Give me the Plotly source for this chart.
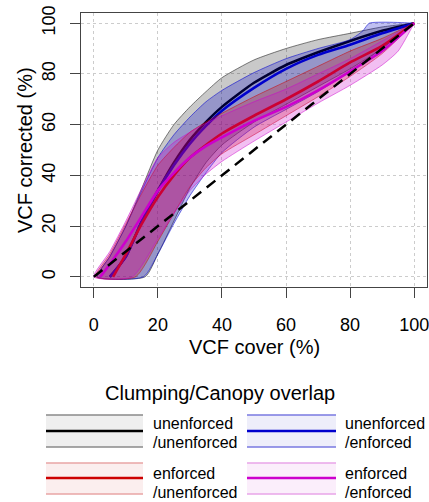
import plotly.graph_objects as go

# ---------------- data ----------------
# unenforced / unenforced  (black / grey)
uu_med_x = [5, 10, 15, 20, 25, 30, 35, 40, 50, 60, 70, 80, 90, 100]
uu_med_y = [0, 8, 22, 34, 45, 54, 61, 67, 76.5, 83.5, 88.5, 93, 97, 100]
uu_hi_x = [1, 5, 10, 15, 20, 25, 30, 35, 40, 50, 60, 70, 80, 90, 100]
uu_hi_y = [0, 8, 20, 35, 50, 60, 67, 73, 78.5, 85.5, 90, 93.5, 96, 98.5, 100]
uu_lo_x = [16, 20, 25, 30, 35, 40, 50, 60, 70, 80, 90, 100]
uu_lo_y = [0, 9, 22, 35, 45, 52, 61, 68, 75, 82, 90, 100]

# unenforced / enforced  (blue)
ue_med_x = [5, 10, 15, 20, 25, 30, 35, 40, 50, 60, 70, 80, 90, 100]
ue_med_y = [0, 8, 22, 34, 44, 52.5, 59.5, 65.5, 74.5, 82, 87.5, 91.5, 96, 100]
ue_hi_x = [1, 5, 10, 15, 20, 25, 30, 35, 40, 50, 60, 70, 80, 84, 86, 100]
ue_hi_y = [0, 8, 20, 34, 47, 56, 63, 69, 73.5, 80.5, 86, 90, 93.5, 97, 100, 100]
ue_lo_x = [15.5, 20, 25, 30, 35, 40, 50, 60, 70, 80, 90, 100]
ue_lo_y = [0, 9, 21, 32, 41, 49, 59, 66, 73, 81, 90, 100]

# enforced / unenforced  (red)
eu_med_x = [6, 10, 15, 20, 25, 30, 35, 40, 50, 60, 70, 80, 90, 100]
eu_med_y = [0, 9, 21, 31.5, 40, 47, 52, 56.5, 63.5, 70, 77, 84.5, 91, 100]
eu_hi_x = [0.5, 5, 10, 15, 20, 25, 30, 35, 40, 50, 60, 70, 80, 90, 100]
eu_hi_y = [0, 9, 21, 33, 44, 51, 57, 61, 64.5, 71, 77, 83, 89, 94, 100]
eu_lo_x = [13, 20, 25, 30, 35, 40, 50, 60, 70, 80, 90, 100]
eu_lo_y = [0, 14, 25, 35.5, 43, 48.5, 56, 63.5, 71, 79, 88, 100]

# enforced / enforced  (magenta)
ee_med_x = [2, 5, 10, 15, 20, 25, 30, 35, 40, 50, 60, 70, 80, 90, 100]
ee_med_y = [0, 5, 14, 24, 34, 41, 47, 51.5, 55, 61.5, 67, 73.5, 81, 89, 100]
ee_hi_x = [0, 5, 10, 15, 20, 25, 30, 35, 40, 50, 60, 70, 80, 90, 100]
ee_hi_y = [0, 10, 22, 35, 47, 53, 57, 60.5, 63.5, 69, 74, 80, 86, 93, 100]
ee_lo_x = [12, 20, 25, 30, 35, 40, 50, 60, 70, 80, 90, 95, 100]
ee_lo_y = [0, 15, 25, 34, 40.5, 45.5, 53.5, 61, 68.5, 75.5, 83.5, 89, 100]

# 1:1 reference line
ref_x = [0, 100]
ref_y = [0, 100]

ticks = [0, 20, 40, 60, 80, 100]
tick_text = ["0", "20", "40", "60", "80", "100"]

legend_title = "Clumping/Canopy overlap"
legend_labels = [("unenforced", "/unenforced"), ("unenforced", "/enforced"),
                 ("enforced", "/unenforced"), ("enforced", "/enforced")]

# ---------------- styling ----------------
W, H = 429, 502
ML, MR, MT, MB = 81, 2, 13, 215
PW, PH = W - ML - MR, H - MT - MB
FONT = "Liberation Sans, Arial, sans-serif"

series = [
    dict(mx=uu_med_x, my=uu_med_y, hx=uu_hi_x, hy=uu_hi_y, lx=uu_lo_x, ly=uu_lo_y,
         fill="rgba(0,0,0,0.21)", edge="rgba(40,40,40,0.6)", line="#000000"),
    dict(mx=ue_med_x, my=ue_med_y, hx=ue_hi_x, hy=ue_hi_y, lx=ue_lo_x, ly=ue_lo_y,
         fill="rgba(0,0,205,0.25)", edge="rgba(0,0,205,0.55)", line="#0000CD"),
    dict(mx=eu_med_x, my=eu_med_y, hx=eu_hi_x, hy=eu_hi_y, lx=eu_lo_x, ly=eu_lo_y,
         fill="rgba(205,0,0,0.25)", edge="rgba(205,0,0,0.5)", line="#CD0000"),
    dict(mx=ee_med_x, my=ee_med_y, hx=ee_hi_x, hy=ee_hi_y, lx=ee_lo_x, ly=ee_lo_y,
         fill="rgba(205,0,205,0.25)", edge="rgba(205,0,205,0.5)", line="#CD00CD"),
]

fig = go.Figure()
for s in series:
    px = list(s["hx"]) + list(reversed(s["lx"])) + [s["hx"][0]]
    py = list(s["hy"]) + list(reversed(s["ly"])) + [s["hy"][0]]
    fig.add_trace(go.Scatter(x=px, y=py, mode="lines", fill="toself",
                             fillcolor=s["fill"],
                             line=dict(color=s["edge"], width=1, shape="spline", smoothing=0.6),
                             hoverinfo="skip", showlegend=False))
    fig.add_trace(go.Scatter(x=s["mx"], y=s["my"], mode="lines",
                             line=dict(color=s["line"], width=2.6, shape="spline", smoothing=0.6),
                             showlegend=False))

fig.add_trace(go.Scatter(x=ref_x, y=ref_y, mode="lines",
                         line=dict(color="black", width=2.5, dash="11px,7px"),
                         showlegend=False))

axis_common = dict(range=[-4, 104], tickvals=ticks, ticktext=tick_text,
                   showgrid=True, gridcolor="#cccccc", griddash="dot", gridwidth=1,
                   zeroline=False, showline=True, mirror=True, linecolor="#444444",
                   linewidth=1, ticks="outside", ticklen=10, tickwidth=1,
                   tickcolor="#444444", tickfont=dict(family=FONT, size=18, color="black"),
                   automargin=False, ticklabeloverflow="allow")

fig.update_xaxes(**axis_common, ticklabelstandoff=11)
fig.update_yaxes(**axis_common, tickangle=-90, ticklabelstandoff=8)


def pxx(x):
    return (x - ML) / PW


def pxy(y):
    return (MT + PH - y) / PH


annotations = [
    dict(text="VCF cover (%)", x=pxx(254), y=pxy(347), xref="paper", yref="paper",
         showarrow=False, xanchor="center", yanchor="middle",
         font=dict(family=FONT, size=20, color="black")),
    dict(text="VCF corrected (%)", x=pxx(25), y=pxy(150), xref="paper", yref="paper",
         showarrow=False, xanchor="center", yanchor="middle", textangle=-90,
         font=dict(family=FONT, size=20, color="black")),
    dict(text=legend_title, x=pxx(220), y=pxy(393), xref="paper", yref="paper",
         showarrow=False, xanchor="center", yanchor="middle",
         font=dict(family=FONT, size=20, color="black")),
]

shapes = []
leg_style = [
    dict(box="#efefef", edge="#8a8a8a", mid="#000000"),
    dict(box="#eeeefa", edge="#7878e0", mid="#0000CD"),
    dict(box="#fbeeee", edge="#e8a4a4", mid="#CD0000"),
    dict(box="#fbeefb", edge="#e8a4e8", mid="#CD00CD"),
]
cols = [(46, 143, 151), (247, 336, 343)]
rows = [(415, 431, 447, 423, 442), (463, 478, 494, 473, 492)]
for i, (l1, l2) in enumerate(legend_labels):
    x0, x1, xt = cols[i % 2]
    yt, ym, yb, t1, t2 = rows[i // 2]
    st = leg_style[i]
    shapes.append(dict(type="rect", xref="paper", yref="paper",
                       x0=pxx(x0), x1=pxx(x1), y0=pxy(yb), y1=pxy(yt),
                       fillcolor=st["box"], line=dict(width=0)))
    for yy, col, w in [(yt, st["edge"], 1.3), (yb, st["edge"], 1.3), (ym, st["mid"], 2.7)]:
        shapes.append(dict(type="line", xref="paper", yref="paper",
                           x0=pxx(x0), x1=pxx(x1), y0=pxy(yy), y1=pxy(yy),
                           line=dict(color=col, width=w)))
    for txt, yy in [(l1, t1), (l2, t2)]:
        annotations.append(dict(text=txt, x=pxx(xt), y=pxy(yy), xref="paper", yref="paper",
                                showarrow=False, xanchor="left", yanchor="middle",
                                font=dict(family=FONT, size=16, color="black")))

fig.update_layout(width=W, height=H, margin=dict(l=ML, r=MR, t=MT, b=MB, pad=0),
                  paper_bgcolor="white", plot_bgcolor="white",
                  showlegend=False, annotations=annotations, shapes=shapes,
                  font=dict(family=FONT, color="black"))

fig.write_html("out.html", config={"displayModeBar": False},
               post_script="document.body.style.margin='0';document.body.style.padding='0';")
